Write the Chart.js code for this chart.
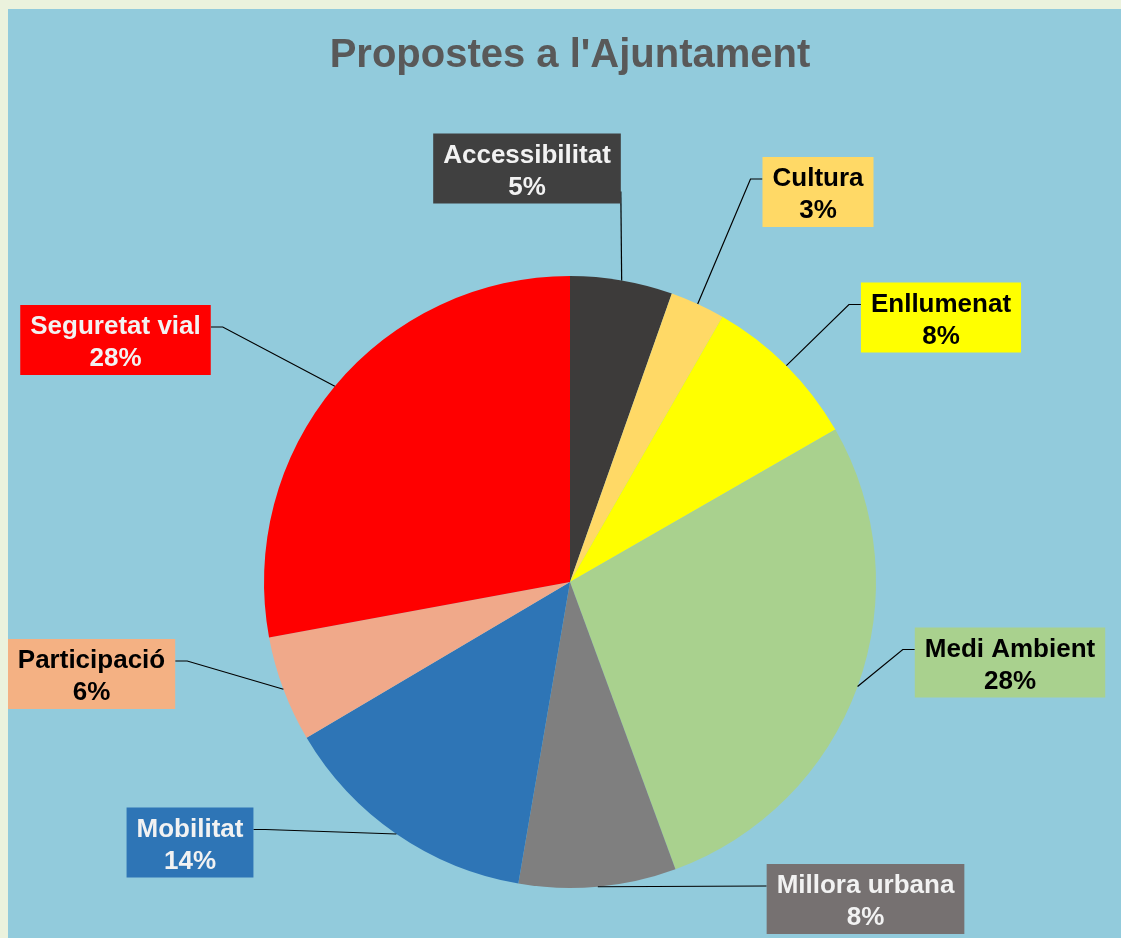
<!DOCTYPE html>
<html>
<head>
<meta charset="utf-8">
<script src="https://cdn.jsdelivr.net/npm/chart.js@4/dist/chart.umd.min.js"></script>
<style>
  html, body { margin:0; padding:0; background:#EBF2DD; width:1121px; height:938px; overflow:hidden; }
  #wrap { position:absolute; left:8px; top:9px; width:1113px; height:929px; background:#92CBDC; }
  canvas { display:block; }
</style>
</head>
<body>
<div id="wrap"><canvas id="c" width="1113" height="929"></canvas></div>
<script>
// ---- data ----
const categories = ["Accessibilitat", "Cultura", "Enllumenat", "Medi Ambient", "Millora urbana", "Mobilitat", "Participació", "Seguretat vial"];
const shares = [5.4, 2.9, 8.4, 27.7, 8.3, 13.8, 5.6, 27.9];
const sliceColors = ["#3D3B3A", "#FFD966", "#FFFF00", "#A9D18E", "#7F7F7F", "#2E75B6", "#F0A98A", "#FF0000"];
const boxColors = ["#404040", "#FFD966", "#FFFF00", "#A9D18E", "#767171", "#2E75B6", "#F4B183", "#FF0000"];
const textColors = ["#F2F2F2", "#000000", "#000000", "#000000", "#F2F2F2", "#F2F2F2", "#000000", "#F2F2F2"];
const titleText = "Propostes a l'Ajuntament";

// ---- label layout (box centre offsets from pie centre, in px; side where leader attaches) ----
const labelOffsets = [[-43, -413.5], [248, -390], [371, -264.5], [440, 80.5], [295.5, 317], [-380, 260.5], [-478.5, 92], [-454.5, -242]];
const labelSides = ["bottom", "left", "left", "left", "left", "right", "right", "right"];

const LABEL_FONT = "bold 26px 'Liberation Sans', Arial, sans-serif";

const labelPlugin = {
  id: 'boxLabels',
  afterDatasetsDraw(chart) {
    const ctx = chart.ctx;
    const meta = chart.getDatasetMeta(0);
    const total = shares.reduce((a, b) => a + b, 0);
    ctx.save();
    ctx.font = LABEL_FONT;
    meta.data.forEach((arc, i) => {
      const p = arc.getProps(['x', 'y', 'startAngle', 'endAngle', 'outerRadius'], true);
      const mid = (p.startAngle + p.endAngle) / 2;
      const ax = p.x + Math.cos(mid) * p.outerRadius;
      const ay = p.y + Math.sin(mid) * p.outerRadius;
      const pct = Math.round(shares[i] / total * 100) + '%';
      const w = Math.max(ctx.measureText(categories[i]).width, ctx.measureText(pct).width) + 20;
      const h = 70;
      const cx = p.x + labelOffsets[i][0];
      const cy = p.y + labelOffsets[i][1];
      const left = cx - w / 2, top = cy - h / 2;
      // leader line
      ctx.strokeStyle = '#000000';
      ctx.lineWidth = 1.2;
      ctx.beginPath();
      ctx.moveTo(ax, ay);
      const side = labelSides[i];
      if (side === 'bottom') {
        ctx.lineTo(left + w, top + h - 12);
      } else if (side === 'left') {
        const yy = top + 22;
        if (Math.abs(yy - ay) > 4) ctx.lineTo(left - 12, yy);
        ctx.lineTo(left, yy);
      } else {
        const yy = top + 22;
        if (Math.abs(yy - ay) > 4) ctx.lineTo(left + w + 12, yy);
        ctx.lineTo(left + w, yy);
      }
      ctx.stroke();
      // box
      ctx.fillStyle = boxColors[i];
      ctx.fillRect(left, top, w, h);
      // text
      ctx.fillStyle = textColors[i];
      ctx.textAlign = 'center';
      ctx.textBaseline = 'middle';
      ctx.fillText(categories[i], cx, top + 22);
      ctx.fillText(pct, cx, top + 54);
    });
    ctx.restore();
  }
};

new Chart(document.getElementById('c'), {
  type: 'pie',
  data: {
    labels: categories,
    datasets: [{
      data: shares,
      backgroundColor: sliceColors,
      borderWidth: 0
    }]
  },
  options: {
    responsive: false,
    devicePixelRatio: 1,
    animation: false,
    layout: { padding: { left: 256, right: 245, top: 0, bottom: 50 } },
    plugins: {
      legend: { display: false },
      tooltip: { enabled: false },
      title: {
        display: true,
        text: titleText,
        color: '#595959',
        font: { family: "'Liberation Sans', Arial, sans-serif", size: 40, weight: 'bold', lineHeight: 1.2 },
        padding: { top: 23, bottom: 196 }
      }
    }
  },
  plugins: [labelPlugin]
});
</script>
</body>
</html>
